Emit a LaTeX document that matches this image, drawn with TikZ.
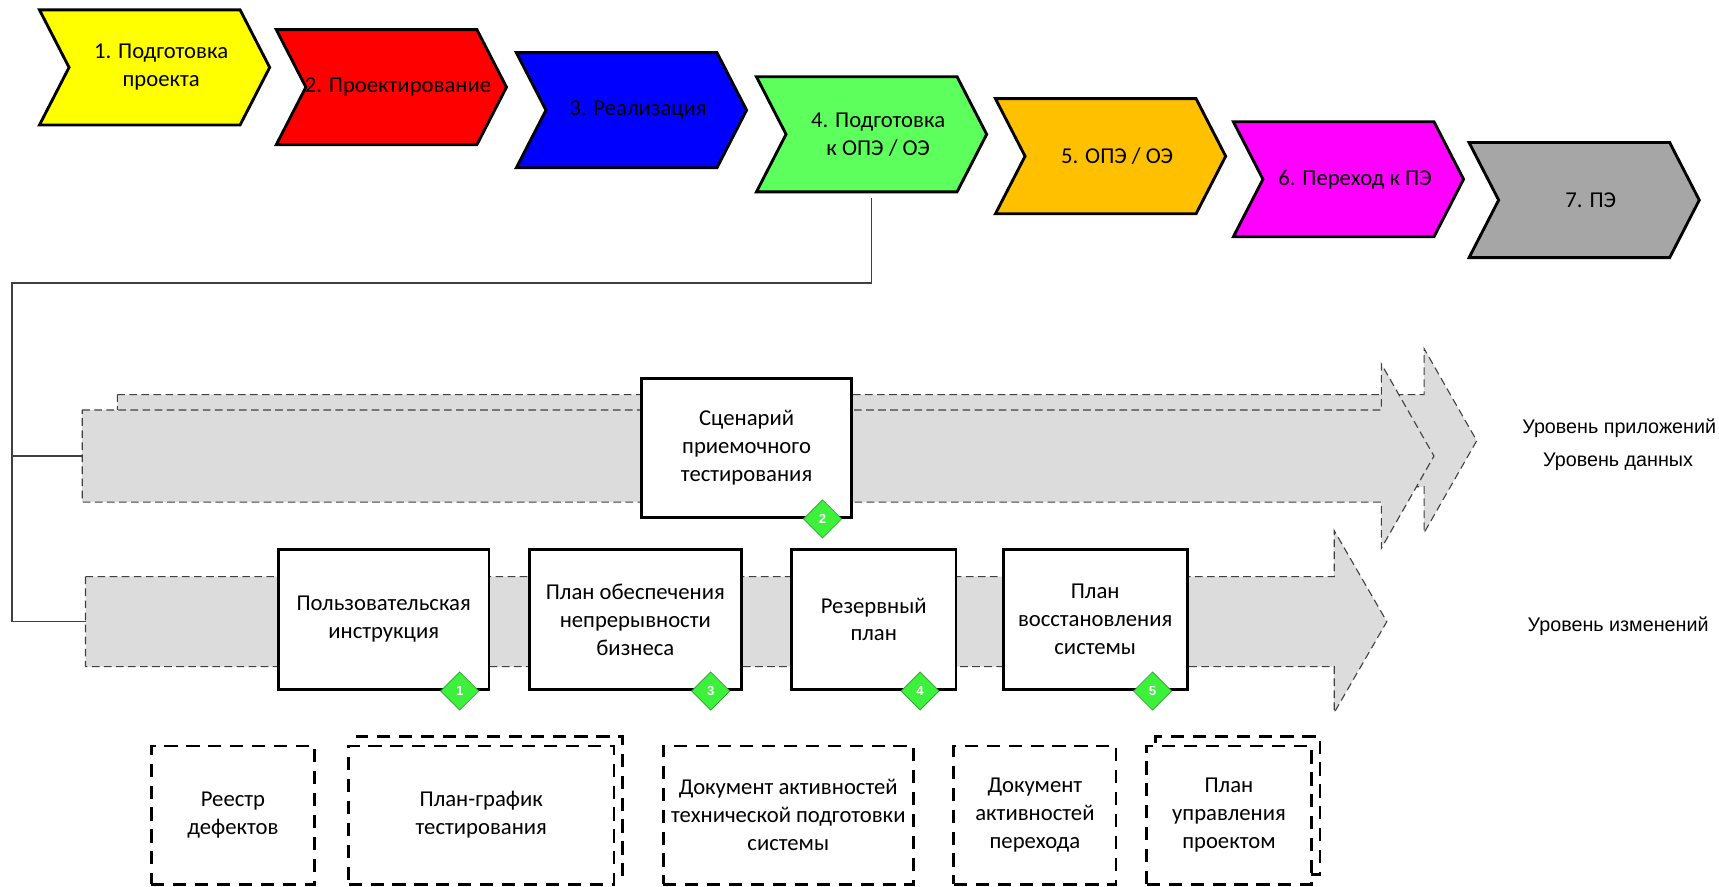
\documentclass[tikz,border=0pt]{standalone}
\usepackage{fontspec}
\setmainfont{Carlito}
\newfontfamily\arialf{Liberation Sans}
\usetikzlibrary{shapes.geometric,calc}

\definecolor{cyellow}{HTML}{FFFF00}
\definecolor{cred}{HTML}{FF0000}
\definecolor{cblue}{HTML}{0000FF}
\definecolor{cgreen}{HTML}{5CFF5C}
\definecolor{corange}{HTML}{FFC000}
\definecolor{cmagenta}{HTML}{FF00FF}
\definecolor{cgray}{HTML}{A6A6A6}
\definecolor{arrfill}{HTML}{DCDCDC}
\definecolor{arredge}{HTML}{404040}
\definecolor{dmfill}{HTML}{3CF03C}
\definecolor{dmedge}{HTML}{2E9E2E}

\tikzset{
 chevbox/.style={minimum width=210pt, minimum height=105pt, inner sep=0pt, outer sep=0pt},
 chevline/.style={draw=black, line width=2.6pt, line join=miter},
 chevtext/.style={font=\fontsize{20.7}{25.5}\selectfont, align=center, inner sep=0pt},
 docbox/.style={draw=black, fill=white, line width=2.6pt, inner sep=0pt, align=center, font=\fontsize{20.7}{25.5}\selectfont},
 dashbox/.style={draw=black, fill=white, line width=2.6pt, dash pattern=on 12pt off 8pt, inner sep=0pt, align=center, font=\fontsize{20.7}{25.5}\selectfont},
 badge/.style={diamond, aspect=1, minimum width=35pt, minimum height=35pt, inner sep=0pt, fill=dmfill, draw=dmedge, line width=0.6pt, text=white, font=\arialf\bfseries\fontsize{12}{12}\selectfont},
 bigarr/.style={fill=arrfill, draw=arredge, line width=1pt, dash pattern=on 7pt off 4pt},
 conn/.style={draw=arredge, line width=1.3pt},
 lvl/.style={font=\arialf\fontsize{18}{21}\selectfont, inner sep=0pt},
}

% name, x0, y0, colour, text
\newcommand\mychev[5]{%
 \node[chevbox] (#1) at ({#2+105},{#3+52.5}) {};
 \path[chevline, fill=#4] (#1.north west) -- ([xshift=-27pt]#1.north east) -- (#1.east)
   -- ([xshift=-27pt]#1.south east) -- (#1.south west) -- ([xshift=27pt]#1.west) -- cycle;
 \node[chevtext] at ([xshift=6pt]#1.center) {#5};
}
% name, x0, xhead, xtip, yc, body half, head half
\newcommand\myarrow[7]{%
 \path[bigarr] (#2,#5-#6) -- (#3,#5-#6) -- (#3,#5-#7) -- (#4,#5) -- (#3,#5+#7)
   -- (#3,#5+#6) -- (#2,#5+#6) -- cycle;
 \coordinate (#1) at (#2,#5);
}

\begin{document}
\begin{tikzpicture}[x=1pt,y=-1pt]
\useasboundingbox (0,0) rectangle (1568,809);

% level arrows
\myarrow{upB}{107}{1299}{1347}{402}{42}{84}
\myarrow{upA}{75}{1260}{1308}{416}{42}{84}
\myarrow{loA}{78}{1217}{1265}{567}{41}{83}

% phase chevrons
\mychev{c1}{36}{9}{cyellow}{1. Подготовка\\проекта}
\mychev{c2}{252}{27}{cred}{2. Проектирование}
\mychev{c3}{471}{48}{cblue}{3. Реализация}
\mychev{c4}{690}{70}{cgreen}{4. Подготовка\\к ОПЭ / ОЭ}
\mychev{c5}{908}{90}{corange}{5. ОПЭ / ОЭ}
\mychev{c6}{1125}{111}{cmagenta}{6. Переход к ПЭ}
\mychev{c7}{1340}{130}{cgray}{7. ПЭ}

% connector
\coordinate (bus) at (11,258);
\draw[conn] ([yshift=-6pt]c4.south) |- (bus) -- (bus |- loA) -- (loA);
\draw[conn] (bus |- upA) -- (upA);

% documents on the arrows
\node[docbox, minimum width=192pt, minimum height=127pt] (scen) at (681,408.5) {Сценарий\\приемочного\\тестирования};
\node[docbox, minimum width=192pt, minimum height=128pt] (b1) at (350,565) {Пользовательская\\инструкция};
\node[docbox, minimum width=193pt, minimum height=128pt] (b2) at (579.5,565) {План обеспечения\\непрерывности\\бизнеса};
\node[docbox, minimum width=150pt, minimum height=128pt] (b3) at (797,565) {Резервный\\план};
\node[docbox, minimum width=168pt, minimum height=128pt] (b4) at (999,565) {План\\восстановления\\системы};

\node[badge] (d2) at ([xshift=-28pt]scen.south east) {2};
\node[badge] (d1) at ([xshift=-28pt]b1.south east) {1};
\node[badge] (d3) at ([xshift=-29pt]b2.south east) {3};
\node[badge] (d4) at ([xshift=-34pt]b3.south east) {4};
\node[badge] (d5) at ([xshift=-33pt]b4.south east) {5};

% level labels
\node[lvl] (l1) at (1477,391) {Уровень приложений};
\node[lvl] (l2) at (1476,421) {Уровень данных};
\node[lvl] (l3) at (1476,571) {Уровень изменений};

% dashed documents
\node[dashbox, minimum width=149pt, minimum height=126pt] (r1) at (212.5,743.5) {Реестр\\дефектов};
\node[dashbox, minimum width=242pt, minimum height=126pt] (r2b) at (447,734.5) {};
\node[dashbox, minimum width=242pt, minimum height=126pt] (r2) at (439,743.5) {План-график\\тестирования};
\node[dashbox, minimum width=228pt, minimum height=126pt] (r3) at (719,743.5) {Документ активностей\\технической подготовки\\системы};
\node[dashbox, minimum width=148pt, minimum height=126pt] (r4) at (944,743.5) {Документ\\активностей\\перехода};
\node[dashbox, minimum width=150pt, minimum height=126pt] (r5b) at (1129,734.5) {};
\node[dashbox, minimum width=150pt, minimum height=126pt] (r5) at (1121,743.5) {План\\управления\\проектом};
\end{tikzpicture}
\end{document}
